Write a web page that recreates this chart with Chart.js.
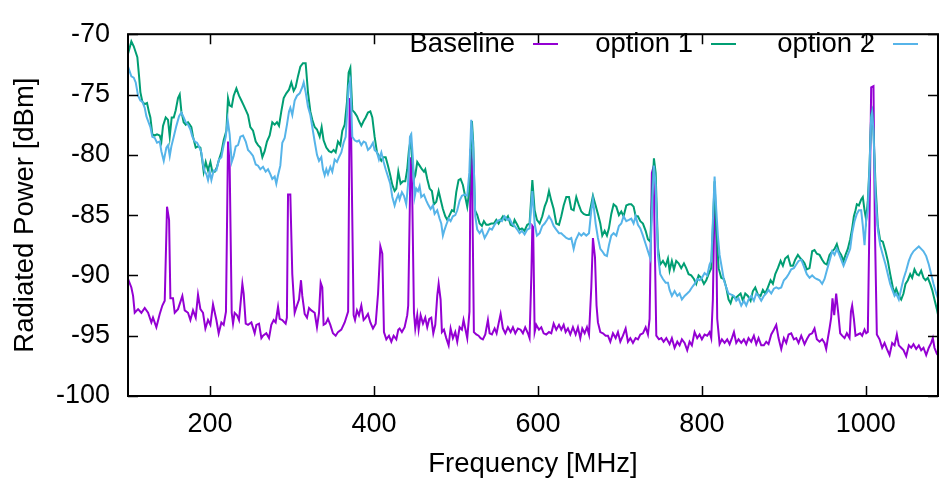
<!DOCTYPE html>
<html>
<head>
<meta charset="utf-8">
<script src="https://cdn.jsdelivr.net/npm/chart.js@4.4.1/dist/chart.umd.min.js"></script>
<style>
  html, body { margin: 0; padding: 0; background: #fff; }
  #wrap { width: 941px; height: 482px; }
</style>
</head>
<body>
<div id="wrap"><canvas id="specCanvas" width="941" height="482"></canvas></div>
<script>
const seriesNames = ['Baseline', 'option 1', 'option 2'];
const xTicks = [200, 400, 600, 800, 1000];
const yTicks = [-100, -95, -90, -85, -80, -75, -70];

// Baseline
const baseFreq = [100.1,104.1,106.2,108.2,112.3,116.3,120.4,124.5,128.5,130.5,134.6,138.7,141.9,144.8,147.6,150.1,151.7,154.9,157.0,161.0,166.3,169.2,173.2,176.1,179.3,182.6,185.4,188.3,191.5,194.4,197.6,200.5,203.7,207.8,210.6,213.9,216.7,219.5,222.0,224.0,226.5,228.1,230.1,233.0,235.4,239.5,241.1,243.6,246.4,250.5,254.5,256.6,259.8,262.7,264.7,268.7,272.0,274.8,277.7,280.1,283.0,285.0,288.2,292.3,293.8,295.2,298.0,300.4,303.3,306.1,308.6,311.0,312.6,315.5,318.3,320.8,323.6,327.7,330.5,333.0,335.0,337.0,338.6,341.1,343.9,346.8,350.0,353.3,356.1,360.2,364.3,368.5,370.4,372.0,375.2,376.9,379.3,381.7,384.6,387.4,389.9,392.7,395.6,398.8,402.1,405.0,407.8,410.2,412.2,415.1,418.3,421.2,424.0,427.3,429.7,431.3,434.1,437.4,440.6,441.8,444.7,446.5,448.8,450.4,452.8,454.5,456.9,459.8,462.6,465.0,467.5,469.9,472.4,474.8,477.2,478.9,481.3,482.9,485.4,488.2,491.1,493.5,496.3,499.2,501.6,504.5,507.3,509.3,511.4,513.8,516.5,517.9,519.5,521.9,524.8,527.6,530.1,532.9,535.8,539.0,541.1,543.9,547.2,549.6,552.0,554.5,557.3,560.2,563.4,566.7,569.5,572.4,575.6,578.9,581.7,584.5,587.8,589.8,592.0,593.2,594.2,596.0,598.0,601.3,604.1,607.0,610.2,613.5,616.3,619.2,622.4,625.7,628.5,631.4,633.8,636.6,639.5,642.7,646.0,648.8,651.7,654.1,657.0,659.8,662.3,665.1,667.1,669.6,671.5,673.2,676.1,679.3,682.6,685.4,688.3,691.5,694.8,697.6,700.5,703.7,707.0,709.8,712.7,715.9,719.2,722.0,724.9,728.1,731.4,734.2,736.2,739.0,741.0,744.4,747.6,750.5,753.3,756.6,760.6,763.4,766.7,770.0,772.8,775.6,778.9,782.1,785.0,787.8,791.1,794.3,797.2,800.0,803.3,806.5,809.4,811.4,813.4,815.5,817.5,818.7,821.6,824.4,827.7,830.9,833.8,836.6,839.1,841.9,844.7,848.0,851.2,854.1,856.9,860.2,863.4,866.3,869.1,872.4,875.6,878.5,881.3,884.6,887.8,890.7,893.5,896.8,900.0,902.9,905.7,909.0,912.2,915.1,917.9,921.2,925.2,928.0,931.3,934.5,937.4,940.2,943.5,946.7,949.6,951.6,953.7,955.7,957.7,959.3,961.4,963.8,966.3,968.7,971.1,974.0,976.8,980.1,981.8,983.3,985.4,987.4,990.2,993.1,995.5,998.4,1000.4,1002.4,1004.5,1006.5,1009.3,1011.0,1013.4,1016.7,1019.9,1022.8,1025.6,1028.9,1032.1,1035.0,1037.8,1040.2,1043.1,1045.9,1049.2,1052.4,1055.3,1058.1,1061.4,1064.6,1067.5,1070.3,1073.6,1076.8,1079.7,1081.7,1083.7,1086.6,1089.0];
const baseDbm = [-90.3,-91.0,-91.7,-93.1,-92.8,-93.1,-92.7,-93.1,-93.9,-93.5,-94.3,-93.2,-92.5,-92.1,-84.3,-85.4,-91.9,-91.9,-93.1,-92.8,-91.7,-92.9,-93.1,-93.7,-92.9,-93.5,-91.6,-92.8,-93.1,-94.4,-93.7,-94.1,-92.4,-93.7,-94.8,-93.9,-94.1,-93.0,-78.9,-80.9,-93.1,-94.0,-93.1,-93.3,-93.7,-90.7,-91.5,-94.0,-94.1,-93.9,-94.8,-94.1,-94.0,-95.2,-95.0,-94.8,-95.2,-94.1,-93.7,-93.9,-92.6,-93.6,-93.7,-94.0,-93.5,-83.3,-83.3,-89.9,-93.1,-92.5,-92.0,-90.4,-91.7,-93.2,-93.5,-92.7,-92.9,-93.1,-94.3,-93.1,-90.6,-91.0,-94.1,-94.0,-93.6,-94.1,-94.8,-95.0,-94.7,-94.5,-93.9,-93.0,-75.3,-77.5,-93.3,-93.7,-92.9,-93.3,-92.5,-93.7,-93.5,-93.2,-93.9,-94.4,-94.0,-91.5,-87.6,-88.2,-94.7,-95.3,-95.0,-95.5,-95.0,-95.3,-94.5,-94.4,-94.7,-94.3,-93.3,-92.5,-80.2,-82.5,-93.1,-94.4,-93.3,-94.5,-93.3,-94.0,-93.5,-94.3,-93.6,-93.5,-94.8,-94.1,-91.7,-90.7,-92.0,-94.7,-94.5,-95.2,-95.8,-94.4,-95.2,-94.7,-95.5,-94.3,-94.5,-93.7,-94.4,-95.2,-93.0,-79.5,-80.5,-94.7,-94.9,-95.0,-95.2,-95.3,-94.9,-93.7,-94.8,-94.9,-94.4,-94.8,-94.0,-93.2,-94.4,-94.8,-94.3,-94.7,-94.3,-94.8,-94.4,-94.5,-94.8,-94.3,-94.8,-95.2,-90.0,-85.9,-86.0,-94.7,-94.1,-94.5,-94.3,-94.8,-94.9,-94.7,-94.8,-94.0,-94.5,-94.1,-94.5,-94.1,-94.7,-94.4,-94.9,-94.3,-94.9,-94.3,-95.2,-94.4,-94.8,-94.3,-94.9,-91.0,-86.9,-88.5,-92.5,-93.9,-94.7,-94.8,-95.0,-95.0,-95.5,-94.8,-95.2,-94.7,-95.5,-95.0,-94.4,-95.5,-95.2,-95.6,-95.2,-95.3,-94.9,-94.8,-94.3,-94.9,-93.6,-81.5,-81.0,-95.0,-95.3,-95.2,-95.5,-95.2,-95.7,-95.2,-96.0,-95.5,-95.8,-95.3,-95.6,-96.2,-95.5,-95.8,-94.7,-95.2,-94.9,-95.3,-94.9,-95.0,-94.7,-95.2,-92.0,-83.5,-86.5,-93.6,-95.7,-95.3,-95.6,-95.3,-95.7,-95.2,-94.7,-95.6,-95.3,-95.6,-95.3,-95.7,-95.2,-95.5,-95.0,-95.7,-95.2,-95.8,-95.8,-95.5,-95.7,-94.9,-94.5,-94.1,-95.2,-96.1,-95.2,-95.6,-94.9,-94.8,-95.3,-95.2,-95.6,-95.0,-95.7,-95.3,-94.9,-94.8,-94.4,-95.3,-95.5,-95.3,-95.6,-96.1,-95.2,-94.4,-93.5,-91.9,-93.3,-91.5,-93.1,-94.8,-95.0,-95.2,-94.8,-95.2,-93.0,-92.5,-93.6,-95.0,-94.9,-94.8,-95.0,-94.5,-94.8,-94.7,-85.0,-74.4,-74.3,-86.0,-94.9,-95.3,-96.0,-95.6,-96.1,-96.6,-95.6,-95.8,-94.9,-95.8,-96.0,-96.2,-96.7,-95.8,-96.0,-95.7,-96.1,-95.8,-96.2,-96.0,-96.6,-96.0,-95.6,-95.2,-96.0,-96.5,-96.7];

// option 1
const opt1Freq = [100.1,104.1,107.0,109.4,111.4,113.5,115.1,117.5,120.4,123.2,125.7,127.3,129.7,132.6,135.4,138.7,140.7,142.7,146.0,148.8,150.9,153.3,155.8,158.2,161.0,163.1,165.1,167.9,170.4,173.2,175.3,177.3,179.3,182.6,185.4,188.3,190.7,192.3,194.8,197.6,200.5,202.9,205.8,208.6,211.0,213.9,216.7,220.0,222.0,224.0,226.5,228.9,232.2,235.4,238.3,241.1,244.4,246.4,249.2,252.5,255.8,258.6,261.4,263.9,266.7,269.5,272.8,276.0,278.9,281.7,284.2,287.0,289.9,293.1,296.4,299.2,302.1,304.5,307.3,310.2,313.4,316.7,319.5,322.4,324.8,327.7,330.5,333.8,336.2,338.6,341.9,345.2,348.0,350.8,353.3,356.1,359.0,361.4,364.3,367.1,369.1,371.2,373.6,376.5,379.3,381.7,384.6,387.4,389.9,392.7,395.6,398.0,400.8,403.7,406.1,409.0,411.8,414.3,417.1,419.9,422.4,425.2,427.3,429.7,432.5,435.4,438.2,440.6,442.7,444.7,446.7,448.8,450.4,452.8,455.7,458.5,461.0,462.6,465.0,467.9,470.7,473.2,476.0,478.9,481.3,484.1,487.0,489.4,492.3,495.1,497.6,500.4,503.2,505.7,508.5,511.4,513.8,516.3,519.5,521.1,523.2,526.0,528.9,531.7,534.1,537.0,539.8,543.1,546.3,549.2,552.0,554.5,557.3,560.2,563.4,566.7,569.5,571.5,574.8,577.6,580.5,583.7,587.0,589.8,593.2,596.0,598.8,602.1,605.3,608.2,611.0,613.5,616.3,619.2,622.4,625.7,628.5,631.4,634.6,637.9,640.7,643.6,646.8,650.1,652.9,655.8,659.0,662.3,665.1,667.1,670.4,673.2,676.1,678.5,681.4,684.2,686.6,689.5,692.3,695.6,698.8,701.7,704.5,707.8,711.0,713.9,716.7,719.2,722.0,724.9,728.1,731.4,734.2,737.1,739.5,741.5,743.6,746.4,749.2,752.5,755.8,758.6,760.6,763.4,765.9,768.7,771.6,774.8,778.1,780.9,783.8,787.0,790.3,793.1,796.0,799.2,802.5,805.3,808.2,811.4,813.4,815.5,817.5,820.4,823.6,826.9,829.7,832.5,835.0,837.8,840.7,843.9,847.2,850.0,852.9,856.1,859.4,862.2,865.1,868.3,871.6,874.4,877.3,880.5,883.8,886.6,889.5,892.7,896.0,898.8,901.6,904.9,908.2,911.0,913.8,917.1,920.4,923.2,925.2,928.0,931.3,934.5,937.4,940.2,943.5,946.7,949.6,952.4,955.7,958.9,961.8,964.6,967.1,969.9,972.8,975.2,978.0,980.9,983.3,985.4,987.4,989.0,991.5,994.3,996.3,998.4,1000.4,1002.4,1004.5,1006.5,1007.7,1009.3,1011.8,1014.6,1017.5,1020.7,1024.0,1026.8,1029.7,1032.9,1035.0,1037.0,1040.2,1043.1,1045.9,1048.4,1051.2,1054.1,1056.5,1059.3,1062.2,1064.6,1067.5,1070.3,1072.8,1075.6,1078.5,1080.9,1083.7,1086.6,1089.0];
const opt1Dbm = [-71.6,-70.6,-71.0,-71.5,-71.9,-73.5,-74.8,-75.6,-75.8,-75.7,-76.5,-76.9,-78.3,-78.4,-78.3,-78.4,-78.9,-77.6,-76.9,-77.1,-78.5,-76.9,-76.9,-76.3,-75.3,-75.0,-76.4,-77.3,-77.5,-77.3,-77.5,-77.7,-78.5,-79.4,-79.3,-79.4,-80.5,-81.4,-80.6,-81.3,-80.6,-81.4,-81.4,-81.0,-80.4,-79.8,-78.8,-78.0,-75.3,-75.9,-76.0,-75.1,-74.5,-75.1,-75.5,-75.9,-76.4,-76.7,-77.7,-78.0,-78.9,-79.2,-79.4,-80.2,-79.7,-78.9,-78.4,-77.3,-77.5,-77.3,-77.6,-76.4,-75.3,-74.9,-74.6,-74.0,-74.7,-74.4,-73.5,-72.7,-72.4,-72.4,-74.8,-76.4,-77.1,-77.7,-77.9,-78.5,-77.7,-78.8,-79.4,-79.7,-79.8,-79.6,-79.8,-78.9,-79.2,-78.0,-77.5,-75.6,-73.2,-72.8,-76.3,-76.5,-76.8,-77.2,-77.6,-77.2,-76.9,-76.5,-76.4,-76.9,-78.5,-79.8,-80.1,-80.5,-80.2,-80.2,-80.9,-81.7,-82.5,-83.0,-82.8,-81.4,-82.4,-82.2,-82.2,-81.2,-79.6,-78.8,-80.4,-82.0,-81.7,-80.6,-80.9,-81.2,-81.4,-81.2,-82.0,-82.8,-83.0,-84.1,-83.9,-83.0,-83.7,-84.5,-85.1,-85.4,-85.0,-84.6,-84.7,-83.1,-82.1,-82.0,-82.5,-83.5,-84.3,-83.0,-77.2,-79.0,-84.6,-85.0,-85.7,-85.9,-85.5,-85.8,-85.8,-85.7,-85.7,-85.4,-85.7,-85.4,-85.1,-85.4,-85.1,-85.8,-85.9,-85.4,-85.8,-86.2,-86.1,-86.3,-85.8,-85.7,-82.1,-84.6,-85.4,-85.7,-85.1,-84.3,-83.8,-83.0,-83.8,-84.5,-85.7,-85.8,-85.1,-84.2,-83.5,-83.5,-84.5,-84.6,-83.5,-84.2,-84.7,-84.9,-85.0,-85.0,-84.1,-83.4,-84.2,-84.9,-85.7,-86.7,-86.3,-86.7,-86.1,-84.9,-84.1,-84.3,-85.0,-84.7,-85.1,-84.2,-84.1,-84.1,-84.3,-85.1,-85.1,-85.5,-85.7,-86.3,-87.0,-87.2,-83.0,-80.3,-81.5,-87.7,-89.1,-88.8,-89.2,-88.6,-89.6,-88.8,-89.5,-88.8,-89.0,-89.4,-89.0,-89.4,-89.9,-90.0,-90.3,-90.7,-90.0,-90.2,-90.7,-90.4,-89.9,-89.4,-86.0,-82.2,-86.0,-89.4,-90.2,-90.3,-91.0,-92.0,-92.3,-91.7,-91.9,-91.7,-91.5,-92.1,-91.5,-91.7,-92.1,-91.3,-91.0,-91.6,-91.7,-91.2,-91.5,-91.0,-90.4,-90.7,-89.9,-89.4,-88.8,-89.2,-88.6,-88.4,-89.2,-89.2,-88.7,-88.3,-88.6,-88.8,-89.0,-89.5,-89.4,-88.0,-87.9,-88.2,-88.3,-88.7,-89.0,-89.1,-88.3,-88.0,-87.8,-87.4,-88.0,-88.3,-88.8,-88.3,-87.8,-87.0,-86.1,-85.1,-84.6,-84.1,-84.2,-83.7,-83.5,-84.6,-85.4,-83.8,-80.9,-76.7,-76.4,-78.0,-82.5,-85.9,-87.1,-87.2,-88.0,-88.8,-89.9,-91.0,-91.5,-91.1,-91.7,-92.0,-91.5,-90.7,-90.4,-89.9,-90.2,-89.5,-89.9,-90.0,-89.6,-90.2,-90.4,-90.2,-90.7,-91.2,-92.0,-92.8,-93.6];

// option 2
const opt2Freq = [100.1,104.1,107.0,109.4,112.3,115.1,117.5,120.4,122.4,124.5,127.3,129.7,132.6,135.4,138.7,140.7,143.6,146.8,148.8,150.9,152.9,155.8,159.0,162.3,165.1,167.9,170.4,173.2,176.1,178.5,181.4,184.2,186.6,189.5,191.5,193.6,195.6,197.6,199.7,201.7,204.5,207.8,211.0,213.9,216.7,219.2,221.6,224.0,226.5,228.9,231.4,234.2,237.1,240.3,243.6,246.4,249.2,252.5,255.8,258.6,261.4,264.7,267.9,270.8,273.6,276.0,278.9,280.9,283.0,285.8,288.2,291.1,293.9,296.4,298.0,300.4,303.3,306.1,309.4,312.6,314.3,316.7,319.5,322.4,324.8,327.7,330.5,333.0,335.8,337.8,339.9,341.9,343.9,346.8,349.2,352.1,354.9,357.3,360.2,363.0,365.5,367.1,369.1,371.2,373.6,376.5,379.3,381.7,384.6,387.4,389.9,392.7,395.6,398.8,400.8,403.7,406.1,409.0,411.8,414.3,417.1,419.9,422.4,425.2,427.3,429.7,431.3,434.1,436.6,439.4,441.5,443.9,445.5,447.6,449.6,451.6,453.7,455.7,457.7,461.0,463.8,465.9,469.1,471.9,474.0,477.2,480.1,482.1,484.1,486.2,488.2,491.1,493.5,496.3,499.2,501.6,504.5,507.3,510.6,513.8,516.3,518.7,521.1,523.6,526.0,528.9,531.7,535.0,538.2,541.1,543.9,547.2,550.4,553.2,556.1,559.3,562.6,565.4,568.3,571.5,574.8,577.6,580.5,583.7,587.0,589.8,593.2,596.0,598.8,602.1,605.3,608.2,611.0,613.5,616.3,619.2,622.4,625.7,628.5,631.4,634.6,637.9,640.7,643.6,646.0,650.1,652.9,655.8,659.0,662.3,665.1,667.1,670.4,673.2,676.1,678.5,681.4,684.2,686.6,689.5,692.3,695.6,698.8,701.7,704.5,707.8,711.0,713.9,716.7,719.2,722.0,724.9,728.1,731.4,734.2,737.1,739.5,741.5,743.6,746.4,749.2,752.5,755.8,758.6,760.6,763.4,766.7,770.0,772.8,775.6,778.9,782.1,785.0,787.8,791.1,794.3,797.2,800.0,803.3,806.5,809.4,811.4,813.4,815.5,817.5,819.5,821.6,824.4,826.9,829.7,832.5,835.8,839.1,841.9,844.7,848.0,851.2,854.1,856.9,860.2,863.4,866.3,869.1,872.4,875.6,878.5,881.3,884.6,887.8,890.7,893.5,896.8,900.0,902.9,905.7,909.0,912.2,915.1,917.9,921.2,925.2,928.0,931.3,934.5,937.4,940.2,943.5,946.7,949.6,952.4,955.7,958.9,961.8,964.6,967.1,969.9,972.8,975.2,978.0,980.9,983.3,986.2,989.0,991.5,994.3,996.3,998.4,1000.4,1002.4,1004.5,1006.5,1007.7,1009.3,1011.8,1014.6,1017.5,1020.7,1024.0,1026.8,1029.7,1032.9,1035.0,1037.0,1040.2,1043.1,1045.9,1049.2,1052.4,1055.3,1058.1,1061.4,1064.6,1067.5,1070.3,1073.6,1076.8,1079.7,1082.5,1085.8,1089.0];
const opt2Dbm = [-72.7,-73.5,-73.6,-74.0,-75.1,-75.5,-75.6,-76.1,-76.8,-77.2,-77.7,-78.5,-78.6,-79.0,-78.9,-79.7,-80.5,-79.4,-79.2,-80.1,-79.3,-78.5,-77.6,-76.8,-76.5,-76.9,-77.3,-77.5,-77.9,-78.5,-78.9,-79.0,-79.3,-79.8,-80.8,-81.4,-81.6,-82.1,-81.4,-82.1,-81.3,-81.3,-80.4,-80.2,-79.2,-78.5,-77.1,-78.3,-80.6,-80.1,-79.3,-79.2,-78.5,-78.4,-78.9,-79.6,-79.8,-80.1,-80.8,-80.9,-81.2,-81.0,-81.4,-81.2,-81.6,-82.0,-81.8,-82.4,-81.7,-80.9,-79.0,-78.6,-77.5,-76.4,-76.1,-76.7,-75.5,-75.1,-74.9,-74.4,-74.0,-74.8,-76.0,-76.7,-77.7,-78.9,-80.0,-80.5,-80.2,-81.2,-81.7,-81.2,-81.6,-81.0,-81.4,-80.4,-80.6,-80.2,-79.8,-79.0,-78.5,-76.7,-74.3,-73.8,-78.5,-78.8,-78.9,-78.8,-79.2,-78.9,-79.0,-79.6,-79.4,-79.0,-79.6,-79.8,-80.4,-79.8,-80.6,-81.2,-81.8,-82.4,-83.5,-84.2,-83.7,-83.3,-83.7,-83.1,-83.4,-84.1,-82.5,-78.5,-78.3,-80.4,-83.5,-82.8,-83.0,-82.6,-83.5,-83.3,-83.8,-84.1,-84.5,-84.2,-84.9,-84.6,-85.3,-85.7,-86.7,-86.2,-85.8,-85.3,-85.5,-85.1,-85.0,-84.6,-83.8,-83.4,-83.3,-83.4,-81.5,-77.1,-79.5,-85.1,-86.2,-86.5,-86.2,-86.9,-86.5,-86.1,-86.2,-85.8,-85.5,-85.4,-85.5,-85.1,-85.4,-85.3,-85.7,-85.9,-86.2,-86.5,-86.3,-86.6,-86.2,-86.1,-83.0,-85.7,-86.7,-86.5,-85.9,-85.7,-85.4,-85.1,-85.4,-85.9,-86.2,-86.5,-86.5,-86.7,-86.9,-87.0,-86.9,-87.8,-87.1,-86.5,-86.7,-86.5,-86.7,-86.5,-84.6,-83.7,-85.7,-86.9,-87.8,-88.0,-88.3,-88.4,-87.5,-86.7,-86.5,-86.7,-85.9,-85.7,-85.1,-85.5,-85.4,-85.3,-85.7,-85.1,-85.8,-86.1,-86.7,-87.4,-88.0,-88.6,-84.0,-80.9,-82.5,-88.3,-89.9,-90.3,-90.6,-90.6,-91.2,-91.7,-91.3,-91.7,-91.5,-92.0,-91.7,-91.5,-91.3,-91.0,-90.7,-90.3,-90.4,-90.2,-89.8,-90.0,-89.1,-88.8,-85.5,-81.8,-84.5,-86.7,-88.3,-89.4,-90.4,-91.0,-91.5,-91.6,-91.7,-92.1,-91.9,-92.5,-92.1,-92.5,-92.0,-91.7,-92.1,-91.5,-91.7,-92.1,-91.7,-91.5,-91.2,-91.5,-91.1,-91.0,-91.1,-91.0,-90.4,-90.2,-89.9,-89.5,-89.4,-89.1,-88.8,-88.7,-89.4,-89.9,-90.2,-90.0,-90.2,-90.3,-90.4,-90.7,-90.3,-89.6,-88.8,-88.0,-88.3,-87.8,-88.2,-88.7,-89.2,-88.8,-88.3,-87.8,-86.5,-85.5,-84.9,-84.6,-84.6,-85.9,-87.5,-85.4,-84.6,-81.0,-76.9,-76.5,-78.0,-83.5,-86.2,-87.5,-88.3,-89.1,-89.9,-90.7,-91.3,-91.7,-91.5,-92.0,-91.1,-90.3,-89.6,-88.8,-88.3,-88.0,-87.8,-87.6,-87.8,-88.0,-88.4,-89.1,-89.9,-90.7,-91.5,-92.1];

const colors = ['#9400d3', '#009e73', '#56b4e9'];
const FONT = '"Liberation Sans", Arial, Helvetica, sans-serif';

function toPoints(xs, ys) {
  return xs.map((f, i) => ({ x: f, y: ys[i] }));
}

// gnuplot style frame, inward ticks and key (text before sample line)
const gnuFrame = {
  id: 'gnuFrame',
  afterDatasetsDraw(chart) {
    const { ctx, chartArea: a, scales } = chart;
    const sx = scales.x, sy = scales.y;
    ctx.save();
    ctx.strokeStyle = '#000';
    ctx.lineWidth = 1.5;
    ctx.beginPath();
    xTicks.forEach(v => {
      const px = Math.round(sx.getPixelForValue(v)) + 0.5;
      ctx.moveTo(px, a.bottom); ctx.lineTo(px, a.bottom - 10);
      ctx.moveTo(px, a.top); ctx.lineTo(px, a.top + 10);
    });
    yTicks.forEach(v => {
      const py = Math.round(sy.getPixelForValue(v)) + 0.5;
      ctx.moveTo(a.left, py); ctx.lineTo(a.left + 10, py);
      ctx.moveTo(a.right, py); ctx.lineTo(a.right - 10, py);
    });
    ctx.stroke();
    ctx.lineWidth = 2;
    ctx.strokeRect(a.left, a.top, a.right - a.left, a.bottom - a.top);

    // key
    const textRight = [515, 693, 875];
    const ky = 44;
    ctx.font = '27.5px ' + FONT;
    ctx.textAlign = 'right';
    ctx.textBaseline = 'middle';
    ctx.fillStyle = '#000';
    seriesNames.forEach((name, i) => {
      ctx.fillText(name, textRight[i], ky);
      ctx.strokeStyle = colors[i];
      ctx.lineWidth = 2;
      ctx.beginPath();
      ctx.moveTo(textRight[i] + 18, ky);
      ctx.lineTo(textRight[i] + 43, ky);
      ctx.stroke();
    });
    ctx.restore();
  }
};

const specChart = new Chart(document.getElementById('specCanvas'), {
  type: 'line',
  data: {
    datasets: [
      { label: seriesNames[0], data: toPoints(baseFreq, baseDbm), borderColor: colors[0], order: 3 },
      { label: seriesNames[1], data: toPoints(opt1Freq, opt1Dbm), borderColor: colors[1], order: 2 },
      { label: seriesNames[2], data: toPoints(opt2Freq, opt2Dbm), borderColor: colors[2], order: 1 }
    ]
  },
  options: {
    responsive: false,
    animation: false,
    events: [],
    elements: {
      point: { radius: 0 },
      line: { borderWidth: 2, tension: 0, fill: false }
    },
    layout: { padding: { top: 18, right: 3, left: 0, bottom: 0 } },
    plugins: { legend: { display: false }, tooltip: { enabled: false } },
    scales: {
      x: {
        type: 'linear',
        min: 100,
        max: 1088,
        afterFit: s => { s.height = 86; },
        afterBuildTicks: s => { s.ticks = xTicks.map(v => ({ value: v })); },
        grid: { display: false, drawTicks: false },
        border: { display: false },
        ticks: { color: '#000', padding: 12, font: { family: FONT, size: 27 }, callback: v => String(v) },
        title: { display: true, text: 'Frequency [MHz]', color: '#000', padding: 1, font: { family: FONT, size: 27.5 } }
      },
      y: {
        min: -100,
        max: -70,
        afterFit: s => { s.width = 128; },
        grid: { display: false, drawTicks: false },
        border: { display: false },
        ticks: { color: '#000', stepSize: 5, padding: 18, font: { family: FONT, size: 27 } },
        title: { display: true, text: 'Radiated Power [dBm]', color: '#000', padding: 9, font: { family: FONT, size: 27.5 } }
      }
    }
  },
  plugins: [gnuFrame]
});
</script>
</body>
</html>
